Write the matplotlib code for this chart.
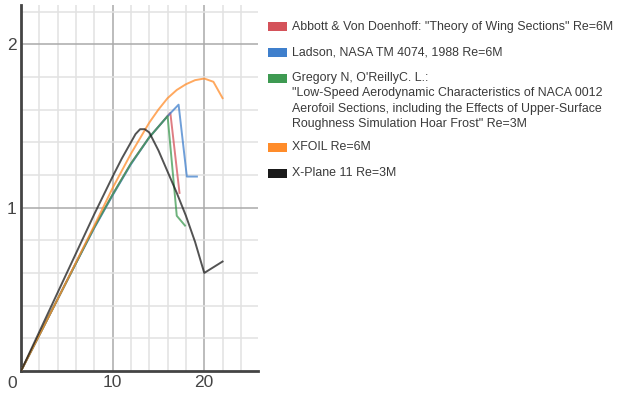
import matplotlib
matplotlib.use("Agg")
import matplotlib.pyplot as plt
from matplotlib.patches import Rectangle

plt.rcParams['font.family'] = ['Liberation Sans', 'DejaVu Sans']

# Data (angle of attack in degrees, lift coefficient)
abbott_x = [0, 2, 4, 6, 8, 10, 12, 14, 16.3, 17.3]
abbott_y = [0, 0.22, 0.44, 0.66, 0.88, 1.08, 1.27, 1.43, 1.58, 1.09]

ladson_x = [0, 2, 4, 6, 8, 10, 12, 14, 16, 17.2, 18.1, 19.2]
ladson_y = [0, 0.22, 0.44, 0.66, 0.875, 1.075, 1.265, 1.43, 1.56, 1.63, 1.19, 1.19]

gregory_x = [0, 2, 4, 6, 8, 10, 12, 14, 16, 17.0, 17.9]
gregory_y = [0, 0.22, 0.44, 0.66, 0.88, 1.08, 1.27, 1.43, 1.56, 0.95, 0.89]

xfoil_x = [0, 2, 4, 6, 8, 10, 12, 14, 15, 16, 17, 18, 19, 20, 21, 22]
xfoil_y = [0, 0.22, 0.44, 0.665, 0.89, 1.12, 1.33, 1.52, 1.60, 1.67, 1.72, 1.755, 1.78, 1.79, 1.77, 1.67]

xplane_x = [0, 2, 4, 6, 8, 10, 11, 12, 12.5, 13, 13.5, 14, 15, 16, 17, 18, 19, 20, 22]
xplane_y = [0, 0.24, 0.48, 0.72, 0.96, 1.19, 1.30, 1.40, 1.45, 1.48, 1.48, 1.46, 1.35, 1.22, 1.09, 0.95, 0.79, 0.60, 0.67]

series = [
    ('Abbott & Von Doenhoff: "Theory of Wing Sections" Re=6M', abbott_x, abbott_y, '#d4525a'),
    ('Ladson, NASA TM 4074, 1988 Re=6M', ladson_x, ladson_y, '#3f7fcc'),
    ('Gregory N, O\'ReillyC. L.:\n"Low-Speed Aerodynamic Characteristics of NACA 0012\n'
     'Aerofoil Sections, including the Effects of Upper-Surface\n'
     'Roughness Simulation Hoar Frost" Re=3M', gregory_x, gregory_y, '#3e9a52'),
    ('XFOIL Re=6M', xfoil_x, xfoil_y, '#ff8c2a'),
    ('X-Plane 11 Re=3M', xplane_x, xplane_y, '#1a1a1a'),
]

fig = plt.figure(figsize=(6.18, 3.94), dpi=100)
ax = fig.add_axes([21/618, 23/394, (258.3-21)/618, (371-5)/394])
ax.set_xlim(0, 25.9)
ax.set_ylim(0, 2.24)

# grid
for gx in range(2, 26, 2):
    c = '#aaaaaa' if gx % 10 == 0 else '#e2e2e2'
    ax.axvline(gx, color=c, lw=1.1, zorder=0)
for i in range(1, 12):
    gy = i * 0.2
    c = '#aaaaaa' if i % 5 == 0 else '#e2e2e2'
    ax.axhline(gy, color=c, lw=1.1, zorder=0)

for label, xs, ys, col in series:
    ax.plot(xs, ys, color=col, lw=1.4, alpha=0.75, zorder=3)

for s in ['top', 'right']:
    ax.spines[s].set_visible(False)
for s in ['left', 'bottom']:
    ax.spines[s].set_color('#444444')
    ax.spines[s].set_linewidth(2)

ax.set_xticks([10, 20])
ax.set_xticklabels(['10', '20'])
ax.set_yticks([1, 2])
ax.set_yticklabels(['1', '2'])
ax.tick_params(length=0, labelsize=12.5, colors='#444444', pad=3)
fig.text(11.7/618, 1 - 383/394, '0', ha='center', va='center',
         fontsize=12.5, color='#444444')

# legend
leg_y = [26.7, 52.5, 78, 147, 173]
for (label, xs, ys, col), yc in zip(series, leg_y):
    fig.patches.append(Rectangle((268/618, 1 - (yc + 4.5)/394), 19/618, 9/394,
                                 transform=fig.transFigure, facecolor=col,
                                 edgecolor='none'))
    if '\n' in label:
        fig.text(291.5/618, 1 - (yc - 6.5)/394, label, ha='left', va='top',
                 fontsize=8.9, color='#3a3a3a', linespacing=1.4)
    else:
        fig.text(291.5/618, 1 - yc/394, label, ha='left', va='center',
                 fontsize=8.9, color='#3a3a3a')

fig.savefig('out.png', dpi=100)
